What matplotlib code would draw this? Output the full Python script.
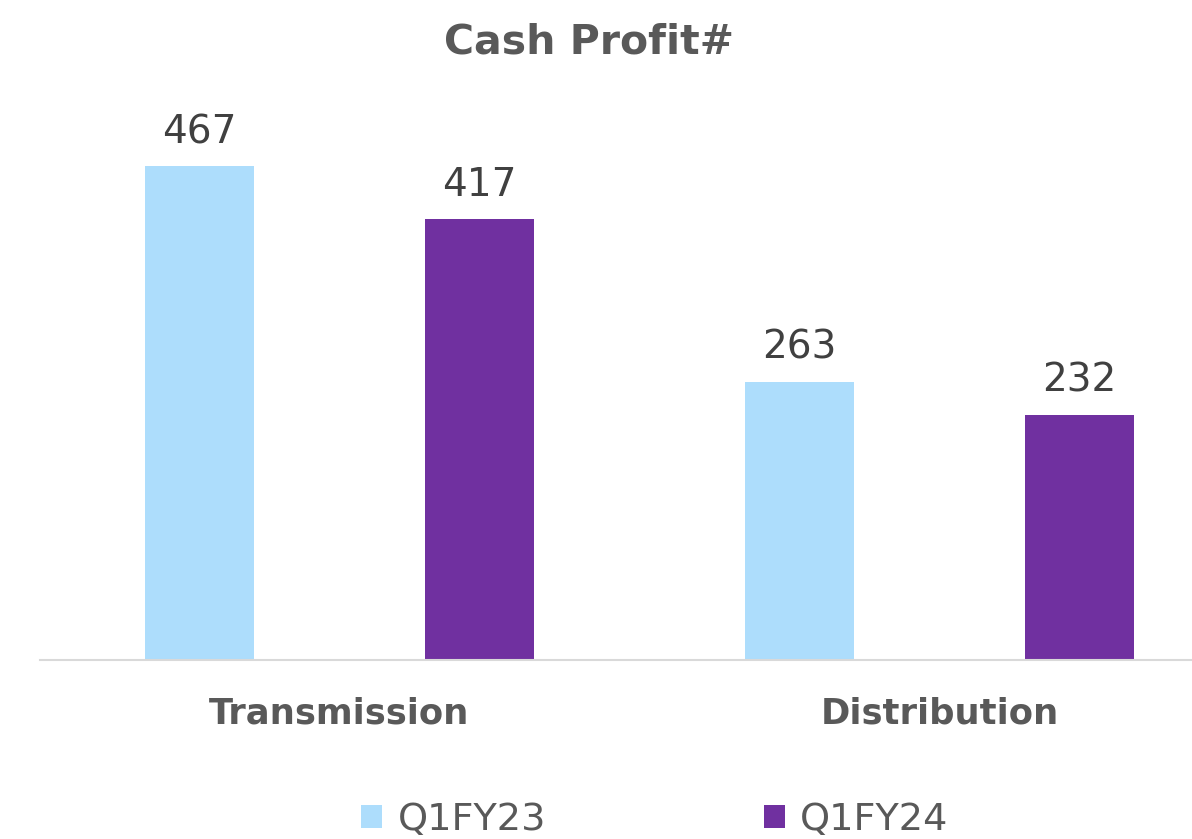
import matplotlib
matplotlib.use("Agg")
import matplotlib.pyplot as plt
import numpy as np

# Chart data
categories = ["Transmission", "Distribution"]
series_names = ["Q1FY23", "Q1FY24"]
q1fy23 = [467, 263]
q1fy24 = [417, 232]

colors = ["#ADDDFC", "#7030A0"]
text_color = "#595959"
label_color = "#404040"

plt.rcParams['font.family'] = ['DejaVu Sans']

W, H = 1192, 839
fig = plt.figure(figsize=(W / 100, H / 100), dpi=100)

# axes placed in pixel terms: baseline at y=660, left at x=39
ax = fig.add_axes([39.5 / W, 1 - 660 / H, 1 - 39.5 / W, (660 - 100) / H])

x = np.arange(len(categories))
offset = 140 / 600
width = 109 / 600

bars1 = ax.bar(x - offset, q1fy23, width, color=colors[0], label=series_names[0])
bars2 = ax.bar(x + offset, q1fy24, width, color=colors[1], label=series_names[1])

ax.set_xlim(-0.5, 0.5 + (W - 639.5) / 600)
ax.set_ylim(0, 560 / 1.058)

# value labels above each bar
for bars in (bars1, bars2):
    for b in bars:
        ax.text(b.get_x() + b.get_width() / 2, b.get_height() + 14,
                f"{b.get_height():.0f}", ha="center", va="bottom",
                fontsize=28, color=label_color)

ax.set_xticks(x)
ax.set_xticklabels(categories, fontsize=25.5, fontweight="bold", color=text_color)
ax.tick_params(axis="x", length=0, pad=26)
ax.set_yticks([])

for s in ["top", "right", "left"]:
    ax.spines[s].set_visible(False)
ax.spines["bottom"].set_color("#D9D9D9")
ax.spines["bottom"].set_linewidth(1.5)

fig.text(589 / W, 1 - 42 / H, "Cash Profit#", ha="center", va="center",
         fontsize=29.5, fontweight="bold", color=text_color)

leg = fig.legend(loc="center", bbox_to_anchor=(655 / W, 1 - 820 / H), ncol=2,
                 frameon=False, fontsize=27.5, handlelength=0.55, handleheight=0.55,
                 handletextpad=0.4, columnspacing=5.7)
for t in leg.get_texts():
    t.set_color(text_color)

fig.savefig("out.png", dpi=100)
